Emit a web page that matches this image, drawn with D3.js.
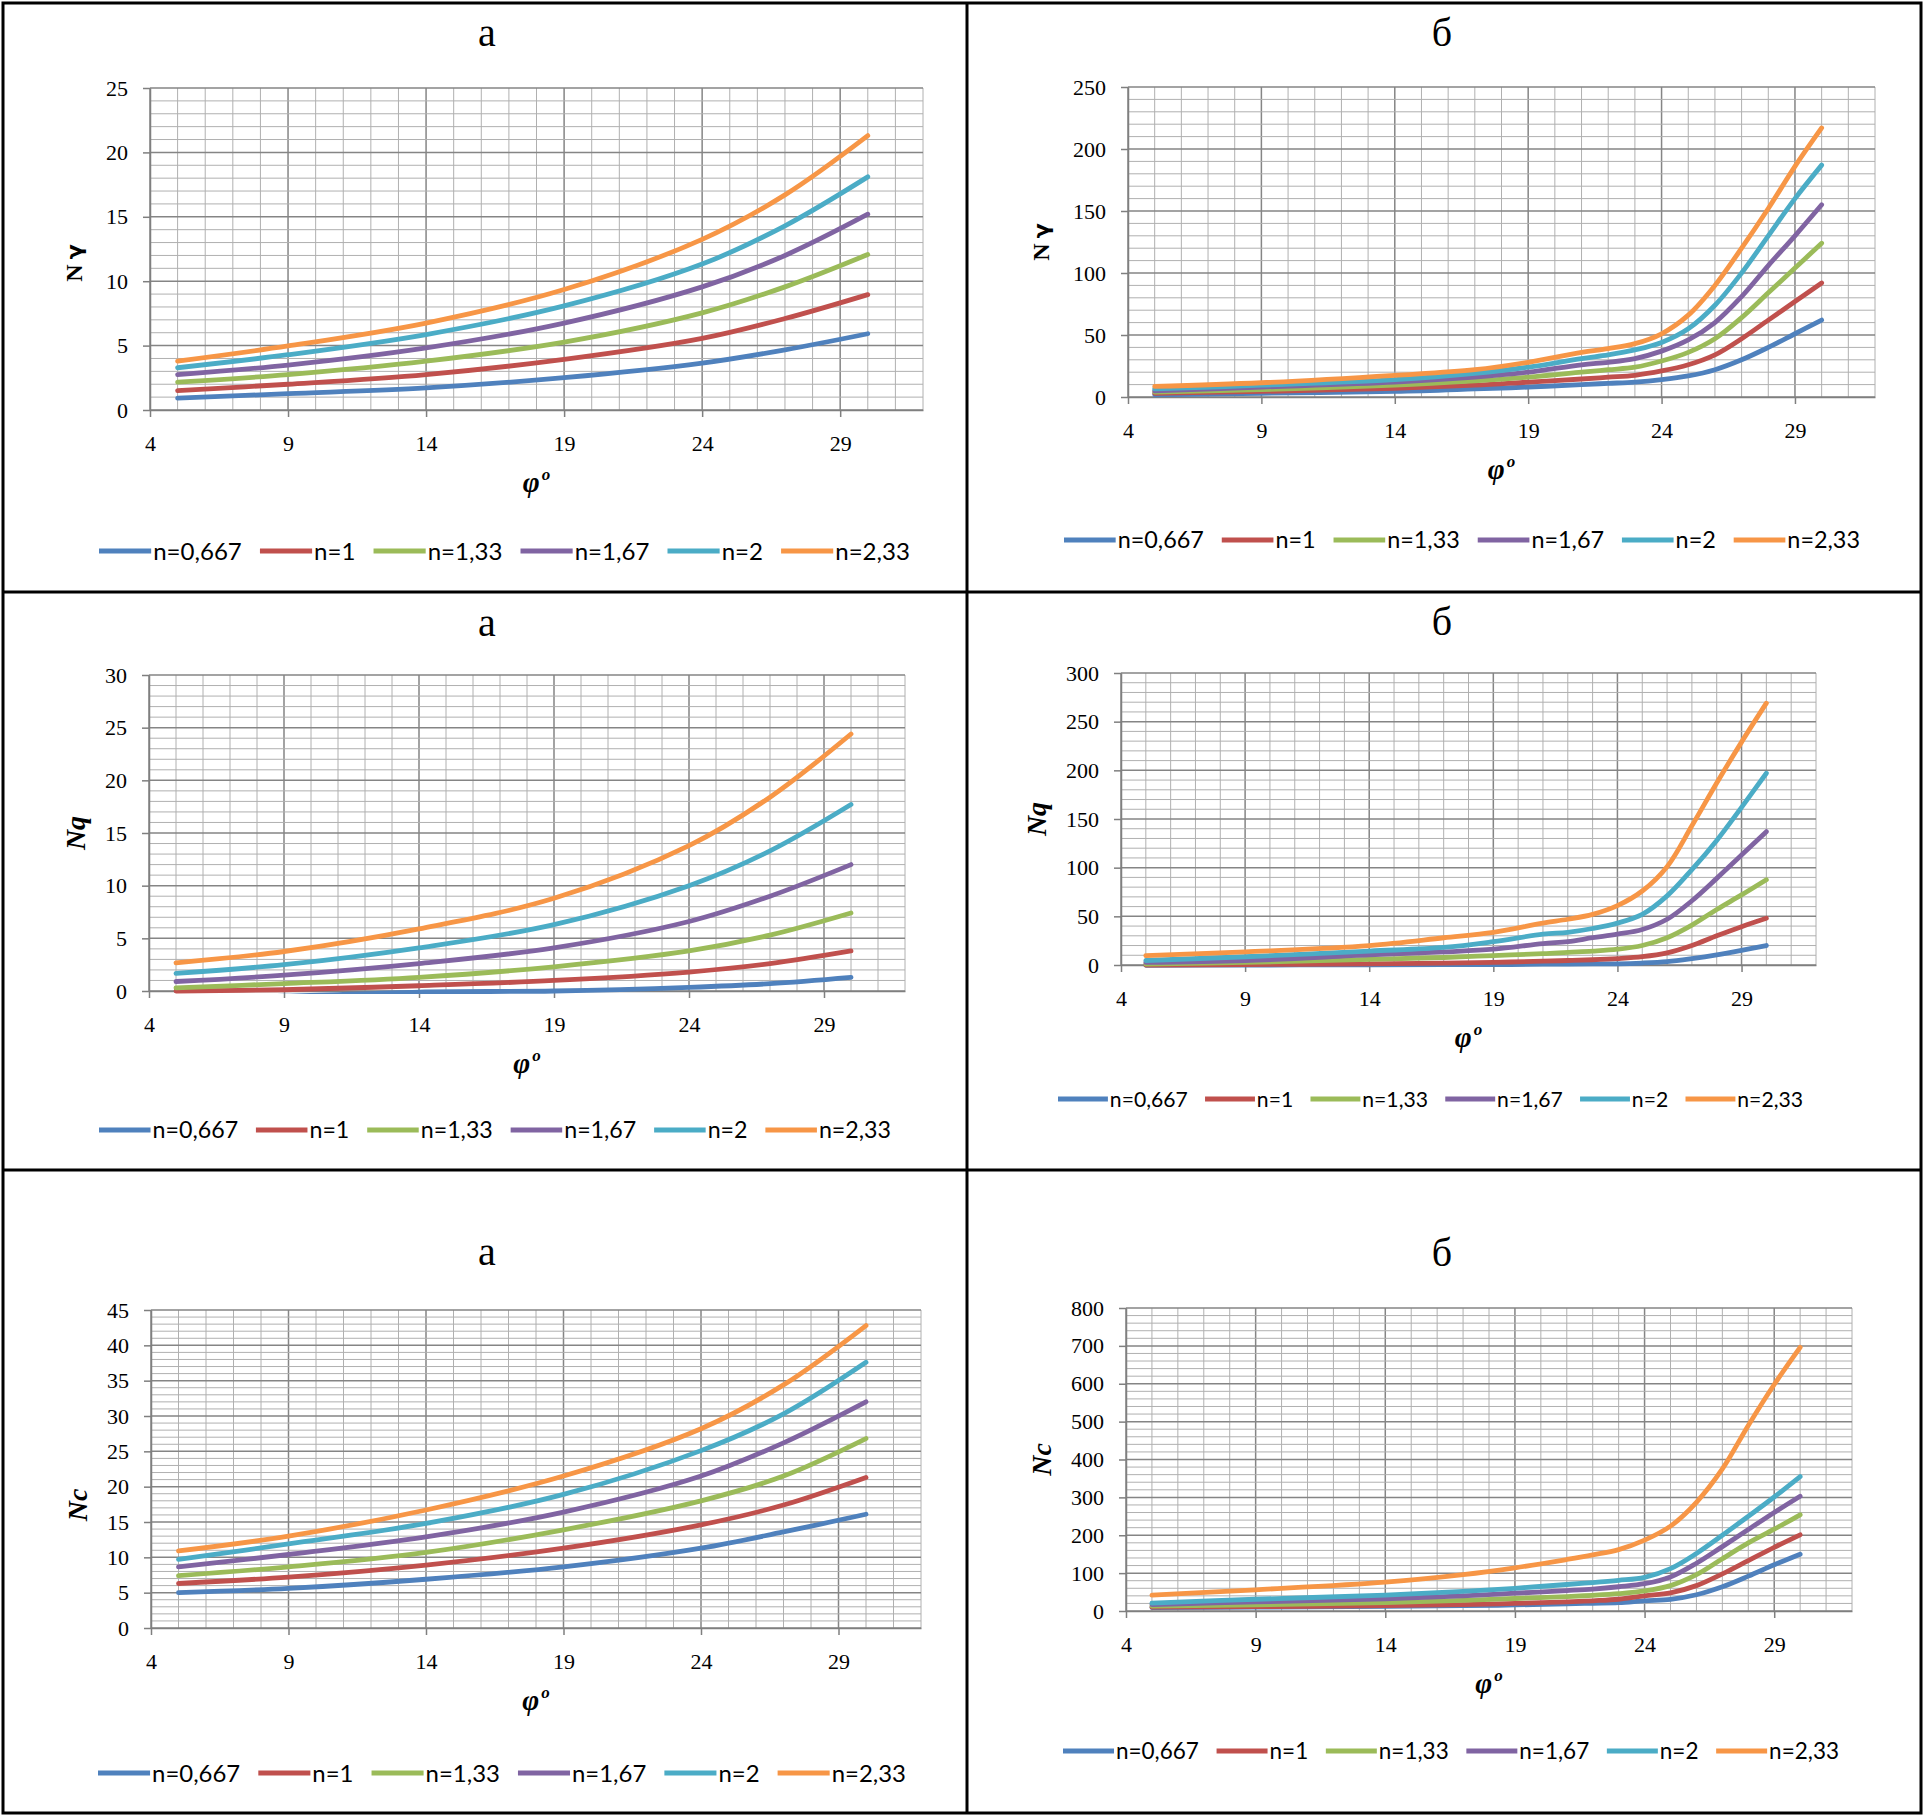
<!DOCTYPE html>
<html>
<head>
<meta charset="utf-8">
<script src="https://cdn.jsdelivr.net/npm/d3@7"></script>
<style>
body { margin: 0; background: #fff; }
</style>
</head>
<body>
<svg id="chart" width="1924" height="1818"></svg>
<script>
// series (same in every panel)
var seriesNames = ["n=0,667", "n=1", "n=1,33", "n=1,67", "n=2", "n=2,33"];
var seriesColors = ["#4f81bd", "#c0504d", "#9bbb59", "#8064a2", "#4bacc6", "#f79646"];

// angle of friction, degrees
var phiA = [5, 9, 14, 19, 24, 27, 30];
var phiB = [5, 9, 14, 17, 19, 21, 22, 23, 24, 25, 26, 27, 28, 29, 30];

// N gamma, variant a
var ngammaA = [
    [0.92, 1.27, 1.72, 2.51, 3.64, 4.67, 5.92],
    [1.51, 2.0, 2.75, 3.93, 5.56, 7.1, 8.96],
    [2.16, 2.75, 3.79, 5.27, 7.54, 9.56, 12.07],
    [2.75, 3.49, 4.82, 6.75, 9.56, 12.0, 15.2],
    [3.28, 4.29, 5.86, 8.08, 11.33, 14.3, 18.1],
    [3.79, 4.97, 6.75, 9.35, 13.25, 16.7, 21.3]
];
// N gamma, variant b
var ngammaB = [
    [1.8, 3, 4.5, 6.5, 8, 10, 11, 12, 14, 17, 22, 30, 40, 51, 62],
    [3, 4.5, 7, 9.5, 12, 14.5, 16, 17.5, 21, 26, 34, 47, 62, 77, 92],
    [4, 6, 9.5, 13, 16, 20, 22, 24, 29, 36, 47, 64, 84, 104, 124],
    [5, 8, 12, 16, 20, 26, 28, 31, 37, 46, 60, 81, 106, 130, 155],
    [6.5, 9.5, 14, 19, 24, 31, 34, 38, 44, 55, 74, 100, 130, 160, 187],
    [8.5, 11.5, 17.5, 22, 28, 36, 39, 43, 51, 66, 90, 120, 152, 186, 217]
];
// Nq, variant a
var nqA = [
    [-0.6, -0.5, -0.1, 0.0, 0.35, 0.7, 1.3],
    [0.0, 0.12, 0.5, 1.0, 1.8, 2.6, 3.8],
    [0.3, 0.7, 1.3, 2.3, 3.8, 5.3, 7.4],
    [0.9, 1.5, 2.6, 4.1, 6.6, 9.0, 12.0],
    [1.68, 2.5, 4.1, 6.3, 10.0, 13.3, 17.7],
    [2.68, 3.75, 5.9, 8.8, 13.8, 18.4, 24.4]
];
// Nq, variant b
var nqB = [
    [-0.3, 0, 0.1, 0.3, 0.4, 0.8, 1.0, 1.1, 1.2, 2, 3.5, 6.6, 10.4, 15, 20],
    [0, 0.4, 1.2, 2, 2.7, 3.9, 4.6, 5.4, 6.6, 8.5, 12.4, 20, 30, 39.4, 48],
    [0.8, 2.7, 5.8, 7.7, 9.7, 11.6, 13, 14.3, 16.2, 20, 28, 41, 57, 72, 87.6],
    [2.7, 4.6, 10.4, 13.5, 16.2, 22, 24, 28, 31.7, 36.5, 47, 66, 89, 113, 137],
    [4.6, 8.5, 14.3, 18, 24, 31.7, 33.6, 37.5, 43, 52, 71, 98, 128, 162, 197],
    [9.6, 13.5, 20, 28, 33.6, 43, 47, 52, 61, 76, 101, 143, 187, 229, 269]
];
// Nc, variant a
var ncA = [
    [5.0, 5.6, 6.9, 8.65, 11.3, 13.6, 16.1],
    [6.3, 7.2, 8.9, 11.3, 14.6, 17.4, 21.3],
    [7.4, 8.65, 10.7, 13.9, 18.0, 21.5, 26.8],
    [8.65, 10.4, 12.9, 16.4, 21.5, 26.2, 32.0],
    [9.7, 11.9, 14.8, 18.9, 25.1, 30.3, 37.6],
    [10.9, 13.0, 16.7, 21.5, 28.2, 34.4, 42.8]
];
// Nc, variant b
var ncB = [
    [9, 10, 12, 14, 16, 19, 20.5, 22, 27, 31, 43, 64, 92, 122, 150],
    [10, 11.5, 14, 17, 20, 24, 27, 31, 40, 48, 67, 98, 133, 168, 201],
    [13, 16.4, 22, 28, 33, 38, 41.5, 46, 53, 67, 96, 138, 180, 216, 254],
    [17, 24, 32, 40, 47, 54, 58, 64, 72, 90, 126, 170, 215, 260, 303],
    [21, 31, 42, 52, 60, 70, 75, 81, 89, 112, 152, 200, 250, 301, 355],
    [42, 56, 76, 96, 114, 136, 148, 162, 187, 224, 287, 375, 490, 598, 696]
];

var panels = [
    {title: "а", yLabel: "gamma", phi: phiA, values: ngammaA, yMax: 25, yMajor: 5, yMinor: 1,
     box: {l: 150, r: 923, t: 88, b: 410}, cx: 487, titleY: 46, yLabelDy: 14,
     legend: {x: 99, y: 551, w: 811}},
    {title: "б", yLabel: "gamma", phi: phiB, values: ngammaB, yMax: 250, yMajor: 50, yMinor: 10,
     box: {l: 1128, r: 1875, t: 87, b: 397}, cx: 1442, titleY: 46, yLabelDy: 0,
     legend: {x: 1064, y: 540, w: 796}},
    {title: "а", yLabel: "Nq", phi: phiA, values: nqA, yMax: 30, yMajor: 5, yMinor: 1,
     box: {l: 149, r: 905, t: 675, b: 991}, cx: 487, titleY: 636, yLabelDy: 0,
     legend: {x: 99, y: 1130, w: 792}},
    {title: "б", yLabel: "Nq", phi: phiB, values: nqB, yMax: 300, yMajor: 50, yMinor: 10,
     box: {l: 1121, r: 1816, t: 673, b: 965}, cx: 1442, titleY: 635, yLabelDy: 0,
     legend: {x: 1058, y: 1099, w: 745}},
    {title: "а", yLabel: "Nc", phi: phiA, values: ncA, yMax: 45, yMajor: 5, yMinor: 1,
     box: {l: 151, r: 921, t: 1310, b: 1628}, cx: 487, titleY: 1265, yLabelDy: 36,
     legend: {x: 98, y: 1773, w: 808}},
    {title: "б", yLabel: "Nc", phi: phiB, values: ncB, yMax: 800, yMajor: 100, yMinor: 20,
     box: {l: 1126, r: 1852, t: 1308, b: 1611}, cx: 1442, titleY: 1266, yLabelDy: 0,
     legend: {x: 1063, y: 1751, w: 776}}
];

var serif = "'Liberation Serif', 'Times New Roman', serif";
var svg = d3.select("#chart");

svg.append("rect").attr("width", 1924).attr("height", 1818).attr("fill", "#fff");

// table frame
var frame = svg.append("g").attr("stroke", "#000").attr("stroke-width", 3).attr("fill", "none");
frame.append("rect").attr("x", 3).attr("y", 3).attr("width", 1918).attr("height", 1810);
frame.append("line").attr("x1", 967).attr("x2", 967).attr("y1", 3).attr("y2", 1813);
frame.append("line").attr("x1", 3).attr("x2", 1921).attr("y1", 592).attr("y2", 592);
frame.append("line").attr("x1", 3).attr("x2", 1921).attr("y1", 1170).attr("y2", 1170);

function isMajor(d, step) {
    return Math.abs(d / step - Math.round(d / step)) < 1e-6;
}

function drawPanel(p, idx) {
    var b = p.box;
    var x = d3.scaleLinear().domain([4, 32]).range([b.l, b.r]);
    var y = d3.scaleLinear().domain([0, p.yMax]).range([b.b, b.t]);
    var g = svg.append("g");

    // title
    g.append("text")
        .attr("x", p.cx).attr("y", p.titleY)
        .attr("text-anchor", "middle")
        .style("font-family", serif).style("font-size", "40px")
        .text(p.title);

    // grid
    var vLines = d3.range(4, 33, 1);
    g.selectAll(".vgrid").data(vLines).enter().append("line")
        .attr("x1", function(d) { return x(d); })
        .attr("x2", function(d) { return x(d); })
        .attr("y1", y(0)).attr("y2", y(p.yMax))
        .attr("stroke", function(d) { return (d - 4) % 5 == 0 ? "#858585" : "#b0b0b0"; })
        .attr("stroke-width", function(d) { return (d - 4) % 5 == 0 ? 1.5 : 1; });

    var hLines = d3.range(0, p.yMax + p.yMinor / 2, p.yMinor);
    g.selectAll(".hgrid").data(hLines).enter().append("line")
        .attr("x1", x(4)).attr("x2", x(32))
        .attr("y1", function(d) { return y(d); })
        .attr("y2", function(d) { return y(d); })
        .attr("stroke", function(d) { return isMajor(d, p.yMajor) ? "#858585" : "#b0b0b0"; })
        .attr("stroke-width", function(d) { return isMajor(d, p.yMajor) ? 1.5 : 1; });

    // axes
    var yAxis = d3.axisLeft(y)
        .tickValues(d3.range(0, p.yMax + 1, p.yMajor))
        .tickSize(7).tickSizeOuter(0).tickPadding(15);
    var xAxis = d3.axisBottom(x)
        .tickValues(d3.range(4, 30, 5))
        .tickSize(7).tickSizeOuter(0).tickPadding(18);

    var ya = g.append("g").attr("transform", "translate(" + b.l + ",0)").call(yAxis);
    var xa = g.append("g").attr("transform", "translate(0," + b.b + ")").call(xAxis);
    [ya, xa].forEach(function(a) {
        a.selectAll("path,line").attr("stroke", "#7f7f7f").attr("stroke-width", 1.5);
        a.selectAll("text")
            .style("font-family", serif).style("font-size", "22px").attr("fill", "#000");
    });

    // axis titles
    var digits = String(p.yMax).length;
    var yt = g.append("text")
        .attr("transform", "translate(" + (b.l - 52 - 11 * digits) + "," + ((b.t + b.b) / 2 + p.yLabelDy) + ") rotate(-90)")
        .attr("text-anchor", "middle")
        .attr("dy", "0.35em")
        .style("font-family", serif).style("font-weight", "bold");
    if (p.yLabel == "gamma") {
        yt.append("tspan").style("font-size", "24px").text("N");
        yt.append("tspan").attr("dx", 5).style("font-size", "22px")
            .style("font-family", "'DejaVu Sans', sans-serif").text("γ");
    } else {
        yt.style("font-style", "italic").style("font-size", "28px").text(p.yLabel);
    }

    var xt = g.append("text")
        .attr("x", (b.l + b.r) / 2).attr("y", b.b + 82)
        .attr("text-anchor", "middle")
        .style("font-family", serif).style("font-weight", "bold").style("font-style", "italic");
    xt.append("tspan").style("font-size", "29px").text("φ");
    xt.append("tspan").attr("dy", -12).attr("dx", 2).style("font-size", "17px").text("o");

    // lines
    var clipId = "clip" + idx;
    svg.append("clipPath").attr("id", clipId).append("rect")
        .attr("x", b.l).attr("y", b.t - 4).attr("width", b.r - b.l).attr("height", b.b - b.t + 7);

    var line = d3.line()
        .x(function(d) { return x(d[0]); })
        .y(function(d) { return y(d[1]); })
        .curve(d3.curveCatmullRom.alpha(0.5));

    var lg = g.append("g").attr("clip-path", "url(#" + clipId + ")");
    p.values.forEach(function(vals, i) {
        var pts = p.phi.map(function(f, j) { return [f, vals[j]]; });
        lg.append("path")
            .attr("d", line(pts))
            .attr("fill", "none")
            .attr("stroke", seriesColors[i])
            .attr("stroke-width", 4.8)
            .attr("stroke-linecap", "round");
    });

    // legend
    var fs = 24 * p.legend.w / 811;
    var leg = g.append("g");
    var cursor = 0;
    seriesNames.forEach(function(name, i) {
        leg.append("line")
            .attr("x1", cursor).attr("x2", cursor + 52)
            .attr("y1", 0).attr("y2", 0)
            .attr("stroke", seriesColors[i]).attr("stroke-width", 5);
        var t = leg.append("text")
            .attr("x", cursor + 54).attr("y", 0).attr("dy", "0.36em")
            .style("font-family", "Lato, 'Open Sans', sans-serif")
            .style("font-size", fs + "px")
            .text(name);
        cursor += 54 + t.node().getComputedTextLength() + 18;
    });
    var natural = cursor - 18;
    leg.attr("transform", "translate(" + p.legend.x + "," + p.legend.y + ") scale(" + (p.legend.w / natural) + ",1)");
}

panels.forEach(function(p, i) { drawPanel(p, i); });
</script>
</body>
</html>
